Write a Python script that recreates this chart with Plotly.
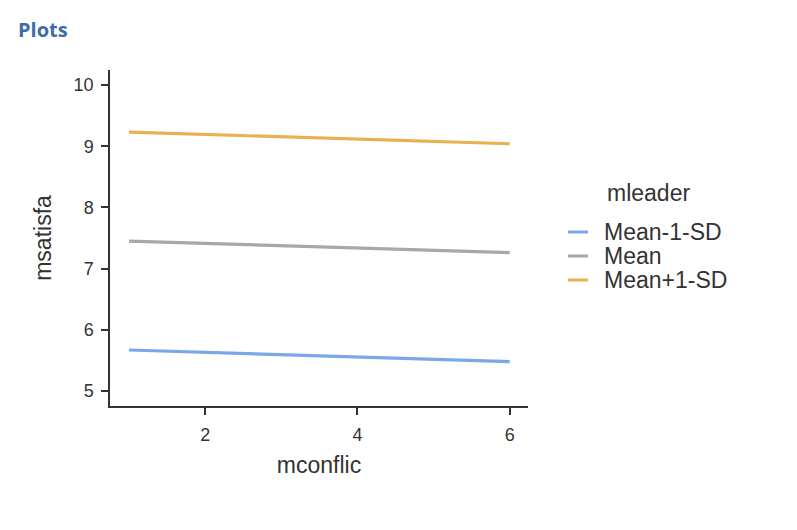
import plotly.graph_objects as go

# mconflic values at which the simple slopes are drawn
mconflic = [1, 6]

# predicted msatisfa for each level of mleader
series_names = ["Mean-1-SD", "Mean", "Mean+1-SD"]
low_sd = [5.67, 5.48]
mean_line = [7.45, 7.26]
high_sd = [9.23, 9.04]

colors = ["#7aa6ea", "#a8a8a8", "#e8b04e"]

# plot area in figure pixels (page has an 8px body margin)
W, H = 789, 522
L, T, PW, PH = 102, 62, 418, 336


def px(x):
    return (x - L) / PW


def py(y):
    return 1 - (y - T) / PH


fig = go.Figure()
for name, vals, col in zip(series_names, [low_sd, mean_line, high_sd], colors):
    fig.add_trace(go.Scatter(
        x=mconflic, y=vals, mode="lines", name=name,
        line=dict(color=col, width=3.2), showlegend=False
    ))

axis_style = dict(
    showgrid=False, zeroline=False, showline=True,
    linecolor="#333333", linewidth=1.5,
    ticks="outside", ticklen=7, tickwidth=1.5, tickcolor="#333333",
    tickfont=dict(family="Liberation Sans, Arial", size=18, color="#333333"),
)

fig.update_layout(
    width=W, height=H,
    paper_bgcolor="white", plot_bgcolor="white",
    margin=dict(l=L, r=W - L - PW, t=T, b=H - T - PH),
    font=dict(family="Liberation Sans, Arial", color="#333333"),
    xaxis=dict(
        range=[0.75, 6.24], tickvals=[2, 4, 6], ticklabelstandoff=5,
        title=dict(text="mconflic", font=dict(size=23), standoff=13),
        **axis_style
    ),
    yaxis=dict(
        range=[4.755, 10.245], tickvals=[5, 6, 7, 8, 9, 10], ticklabelstandoff=4,
        title=dict(text="msatisfa", font=dict(size=23), standoff=16),
        **axis_style
    ),
    showlegend=False,
)

# legend: title, then one short line sample and label per series
fig.add_annotation(
    text="mleader", xref="paper", yref="paper",
    x=px(597), y=py(185), xanchor="left", yanchor="middle", showarrow=False,
    font=dict(size=23, color="#333333"),
)
for i, (name, col) in enumerate(zip(series_names, colors)):
    yy = py(224 + 24 * i)
    fig.add_shape(
        type="line", xref="paper", yref="paper",
        x0=px(560), x1=px(580), y0=yy, y1=yy,
        line=dict(color=col, width=3),
    )
    fig.add_annotation(
        text=name, xref="paper", yref="paper",
        x=px(594), y=yy, xanchor="left", yanchor="middle", showarrow=False,
        font=dict(size=23, color="#333333"),
    )

fig.add_annotation(
    text="<b>Plots</b>", xref="paper", yref="paper",
    x=px(8), y=py(21), xanchor="left", yanchor="middle", showarrow=False,
    font=dict(family="Open Sans, Noto Sans", size=20, color="#3e6ca8"),
)

fig.write_html("out.html")
